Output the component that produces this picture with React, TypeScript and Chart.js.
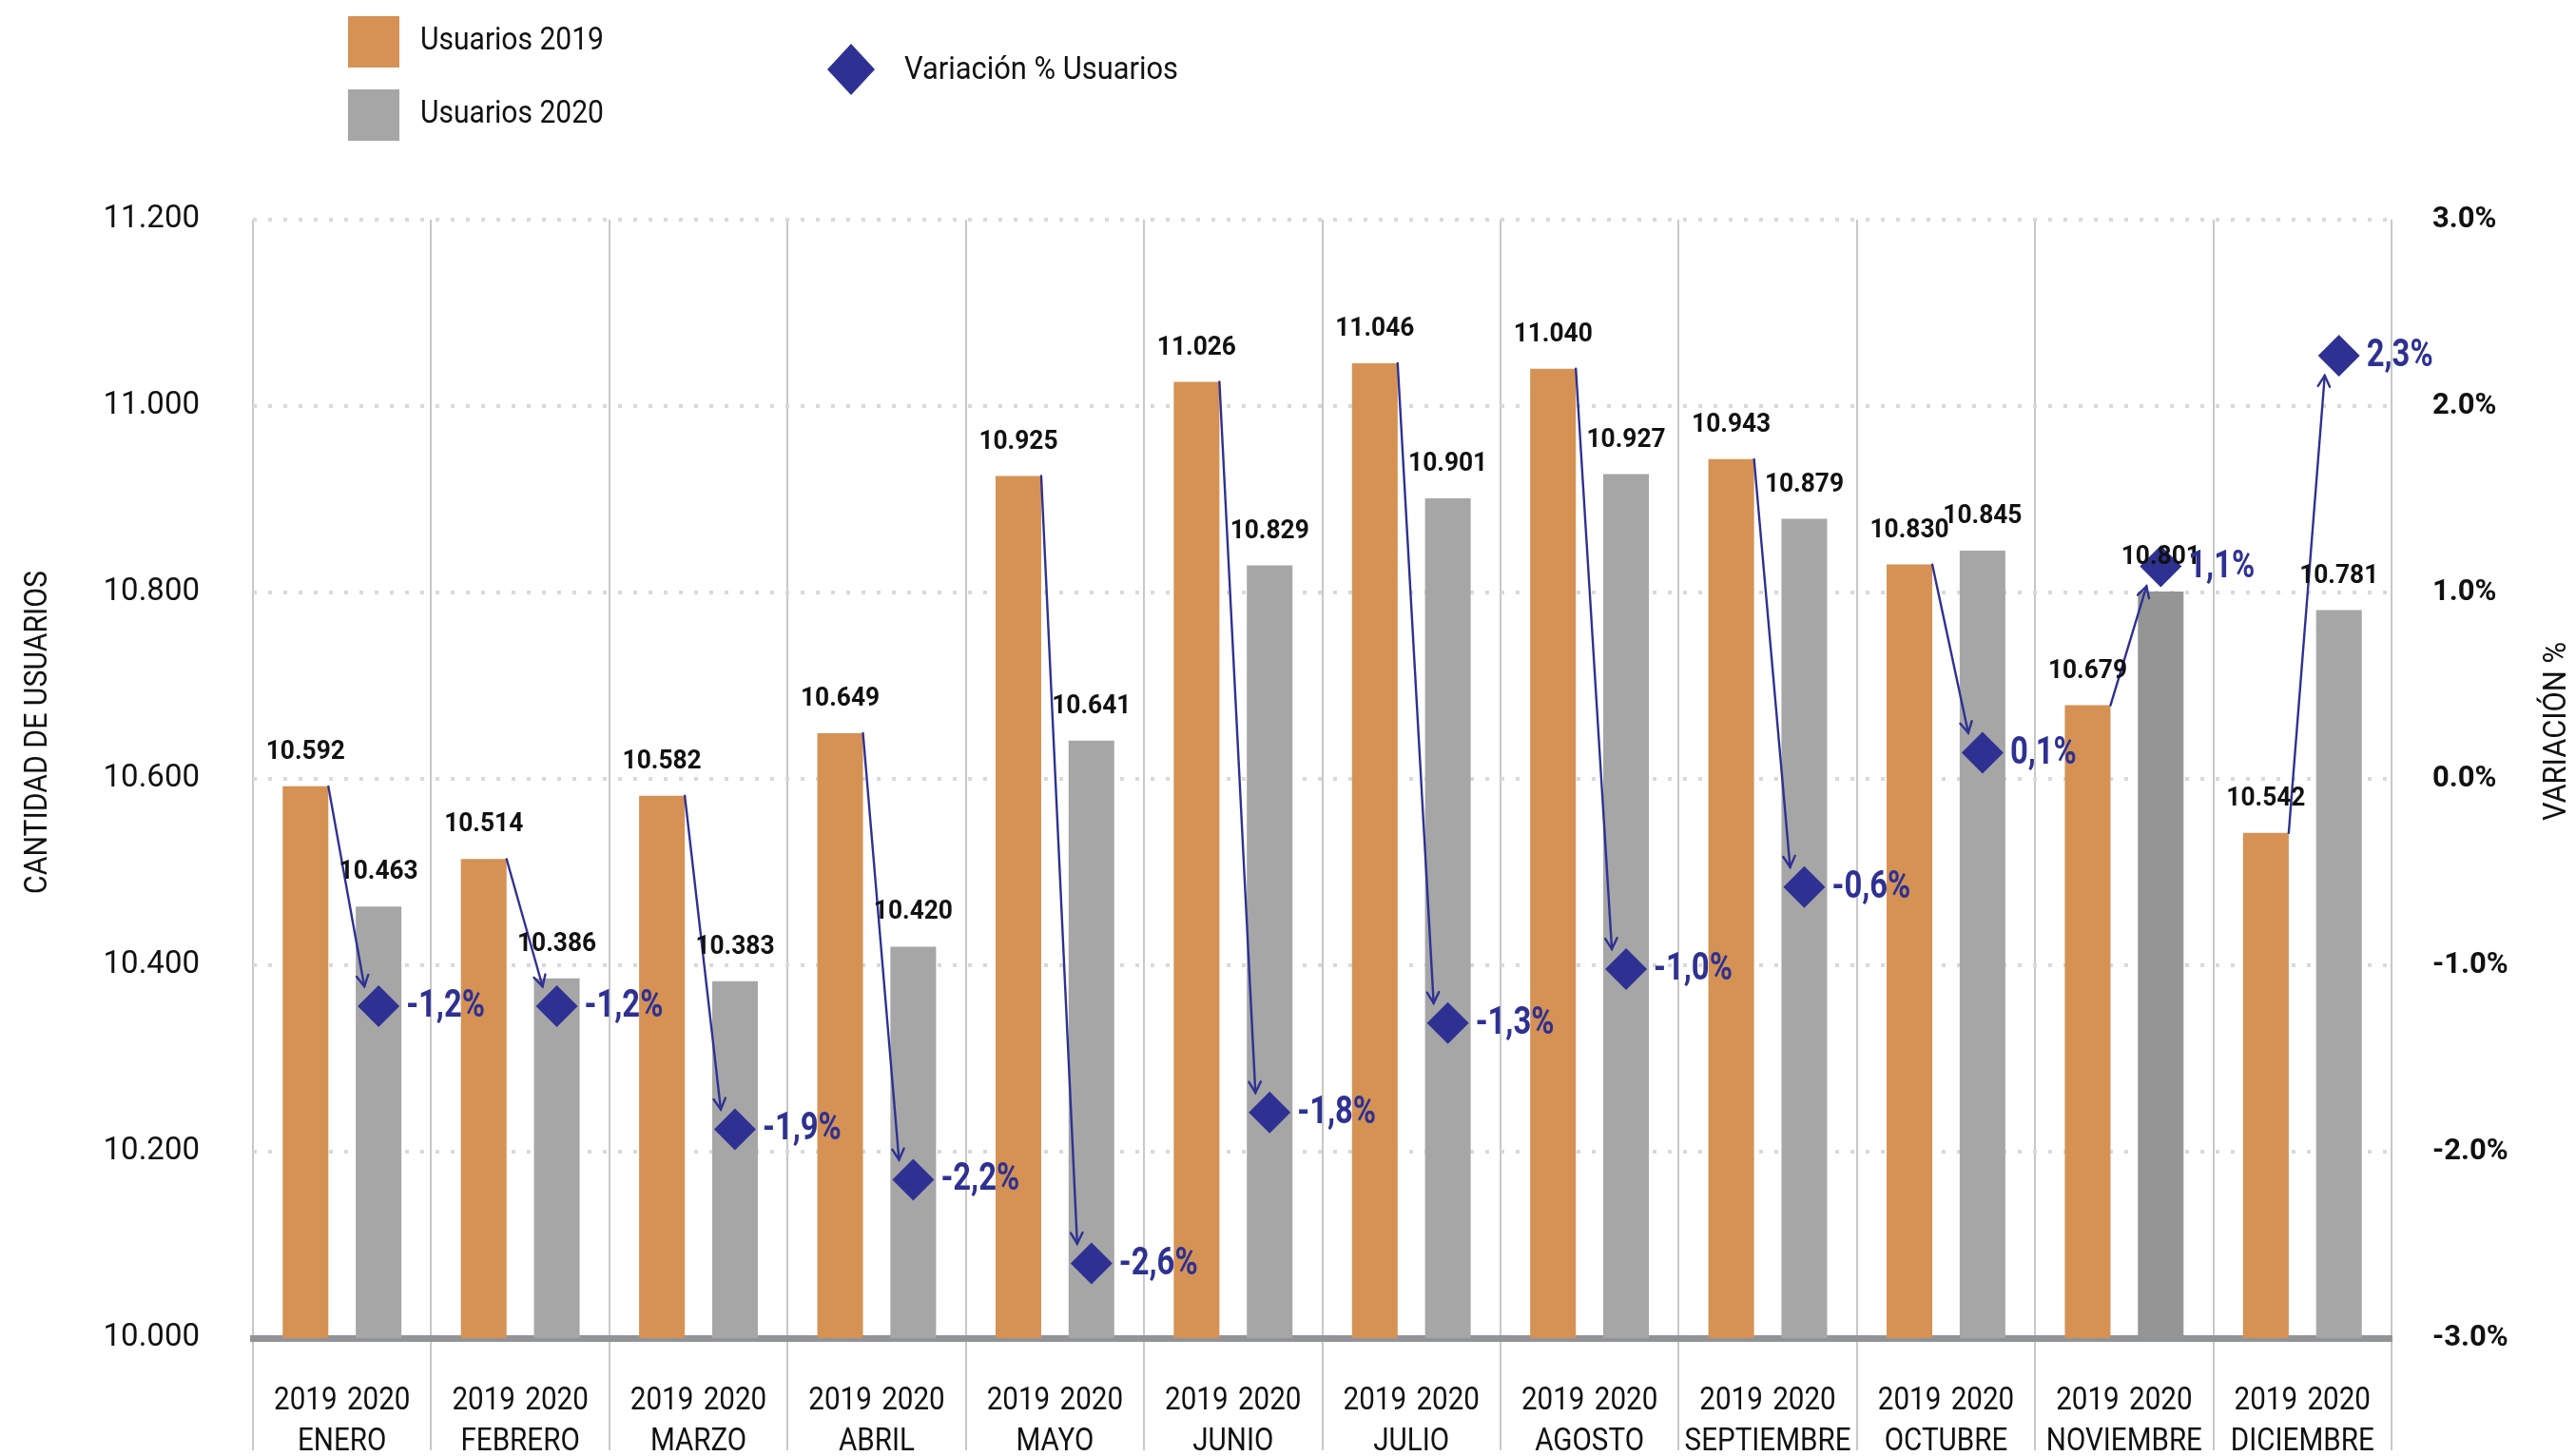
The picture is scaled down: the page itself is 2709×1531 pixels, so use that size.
import { useEffect, useRef } from 'react';
import { Chart, registerables } from 'chart.js';

Chart.register(...registerables);

// ---------- data ----------
const MONTHS = ['ENERO', 'FEBRERO', 'MARZO', 'ABRIL', 'MAYO', 'JUNIO', 'JULIO', 'AGOSTO', 'SEPTIEMBRE', 'OCTUBRE', 'NOVIEMBRE', 'DICIEMBRE'];
const YEARS = ['2019', '2020'];
const USERS_2019 = [10592, 10514, 10582, 10649, 10925, 11026, 11046, 11040, 10943, 10830, 10679, 10542];
const USERS_2020 = [10463, 10386, 10383, 10420, 10641, 10829, 10901, 10927, 10879, 10845, 10801, 10781];
const VARIATION = [-1.22, -1.22, -1.88, -2.15, -2.6, -1.79, -1.31, -1.02, -0.58, 0.14, 1.14, 2.27];
const VARIATION_LABELS = ['-1,2%', '-1,2%', '-1,9%', '-2,2%', '-2,6%', '-1,8%', '-1,3%', '-1,0%', '-0,6%', '0,1%', '1,1%', '2,3%'];
const LEGEND_LABELS = ['Usuarios 2019', 'Usuarios 2020', 'Variación % Usuarios'];
const Y_TITLE = 'CANTIDAD DE USUARIOS';
const Y1_TITLE = 'VARIACIÓN %';
const Y_MIN = 10000;
const Y_MAX = 11200;
const Y_STEP = 200;
const Y1_MIN = -3;
const Y1_MAX = 3;
const Y1_STEP = 1;

// ---------- style ----------
const ORANGE = '#D59254';
const GRAY = '#A6A6A6';
const GRAY_DARK = '#959595';
const NAVY = '#2E3192';
const TEXT = '#111111';
const FONT = 'Roboto, "Noto Sans", sans-serif';
const CAT_PCT = 0.82;
const BAR_PCT = 0.625;
const DIAMOND_R = 22;
const HIGHLIGHT_2020 = 10;

function fmt(v: number): string {
  return String(v).replace(/\B(?=(\d{3})+(?!\d))/g, '.');
}

function drawText(
  ctx: CanvasRenderingContext2D,
  s: string,
  x: number,
  y: number,
  size: number,
  weight: string,
  color: string,
  align: CanvasTextAlign,
  sx: number,
  rot = 0,
  width = 0
) {
  ctx.save();
  ctx.translate(x, y);
  if (rot) ctx.rotate(rot);
  ctx.font = `${weight} ${size}px ${FONT}`;
  let k = sx;
  if (width) k = width / ctx.measureText(s).width;
  ctx.scale(k, 1);
  ctx.fillStyle = color;
  ctx.textAlign = align;
  ctx.textBaseline = 'middle';
  ctx.fillText(s, 0, 0);
  ctx.restore();
}

const overlay = {
  id: 'overlay',
  // place each diamond over its 2020 bar (position taken from the bar element)
  afterDatasetsUpdate(chart: any) {
    const m20 = chart.getDatasetMeta(1);
    const mv = chart.getDatasetMeta(2);
    mv.data.forEach((p: any, i: number) => {
      const bar = m20.data[i];
      if (bar) p.x = bar.x;
    });
  },
  afterDatasetDraw(chart: any, args: any) {
    if (args.index !== 0) return;
    const ctx: CanvasRenderingContext2D = chart.ctx;
    const m19 = chart.getDatasetMeta(0);
    const mv = chart.getDatasetMeta(2);
    ctx.save();
    ctx.strokeStyle = NAVY;
    ctx.lineWidth = 2.4;
    ctx.lineCap = 'round';
    m19.data.forEach((bar: any, i: number) => {
      const p = mv.data[i];
      if (!p) return;
      const x0 = bar.x + bar.width / 2;
      const y0 = bar.y;
      const down = p.y > y0;
      const x1 = p.x - 0.68 * DIAMOND_R;
      const y1 = p.y + (down ? -1 : 1) * 0.95 * DIAMOND_R;
      ctx.beginPath();
      ctx.moveTo(x0, y0);
      ctx.lineTo(x1, y1);
      ctx.stroke();
      const a = Math.atan2(y1 - y0, x1 - x0);
      const L = 13;
      const spread = 0.5;
      ctx.beginPath();
      ctx.moveTo(x1 - L * Math.cos(a - spread), y1 - L * Math.sin(a - spread));
      ctx.lineTo(x1, y1);
      ctx.lineTo(x1 - L * Math.cos(a + spread), y1 - L * Math.sin(a + spread));
      ctx.stroke();
    });
    ctx.restore();
  },
  afterDatasetsDraw(chart: any) {
    const ctx: CanvasRenderingContext2D = chart.ctx;
    const metas = [chart.getDatasetMeta(0), chart.getDatasetMeta(1)];
    const values = [USERS_2019, USERS_2020];
    metas.forEach((meta: any, d: number) => {
      meta.data.forEach((bar: any, i: number) => {
        drawText(ctx, fmt(values[d][i]), bar.x, bar.y - 36, 28, 'bold', TEXT, 'center', 0.94);
        drawText(ctx, YEARS[d], bar.x, 1473, 34, 'normal', TEXT, 'center', 0.87);
      });
    });
    const xs = chart.scales.x;
    MONTHS.forEach((m, i) => {
      drawText(ctx, m, xs.getPixelForValue(i), 1516, 34, 'normal', TEXT, 'center', 0.87);
    });
    const mv = chart.getDatasetMeta(2);
    mv.data.forEach((p: any, i: number) => {
      drawText(ctx, VARIATION_LABELS[i], p.x + DIAMOND_R + 7, p.y + 1, 40, 'bold', NAVY, 'left', 0.82);
    });
  },
  afterDraw(chart: any) {
    const ctx: CanvasRenderingContext2D = chart.ctx;
    ctx.save();
    ctx.fillStyle = ORANGE;
    ctx.fillRect(366, 17, 54, 54);
    ctx.fillStyle = GRAY;
    ctx.fillRect(366, 94, 54, 54);
    ctx.fillStyle = NAVY;
    ctx.beginPath();
    ctx.moveTo(895, 46);
    ctx.lineTo(920, 73);
    ctx.lineTo(895, 100);
    ctx.lineTo(870, 73);
    ctx.closePath();
    ctx.fill();
    ctx.restore();
    drawText(ctx, LEGEND_LABELS[0], 442, 44, 33, 'normal', TEXT, 'left', 1, 0, 193);
    drawText(ctx, LEGEND_LABELS[1], 442, 121, 33, 'normal', TEXT, 'left', 1, 0, 193);
    drawText(ctx, LEGEND_LABELS[2], 951, 75, 33, 'normal', TEXT, 'left', 1, 0, 288);
    drawText(ctx, Y_TITLE, 40, 770, 34, 'normal', TEXT, 'center', 1, -Math.PI / 2, 340);
    drawText(ctx, Y1_TITLE, 2689, 769, 34, 'normal', TEXT, 'center', 1, -Math.PI / 2, 188);
  },
};

export default function App() {
  const ref = useRef<HTMLCanvasElement | null>(null);

  useEffect(() => {
    if (!ref.current) return;
    const chart = new Chart(ref.current, {
      type: 'bar',
      data: {
        labels: MONTHS,
        datasets: [
          {
            type: 'bar',
            label: LEGEND_LABELS[0],
            data: USERS_2019,
            backgroundColor: ORANGE,
            yAxisID: 'y',
            xAxisID: 'x',
            categoryPercentage: CAT_PCT,
            barPercentage: BAR_PCT,
            order: 0,
          },
          {
            type: 'bar',
            label: LEGEND_LABELS[1],
            data: USERS_2020,
            backgroundColor: (c: any) => (c.dataIndex === HIGHLIGHT_2020 ? GRAY_DARK : GRAY),
            yAxisID: 'y',
            xAxisID: 'x',
            categoryPercentage: CAT_PCT,
            barPercentage: BAR_PCT,
            order: 0,
          },
          {
            type: 'line',
            label: LEGEND_LABELS[2],
            data: VARIATION,
            xAxisID: 'x',
            yAxisID: 'y1',
            showLine: false,
            pointStyle: 'rectRot',
            pointRadius: DIAMOND_R,
            pointHoverRadius: DIAMOND_R,
            pointBackgroundColor: NAVY,
            pointBorderColor: NAVY,
            pointBorderWidth: 0,
            order: -1,
          } as any,
        ],
      },
      options: {
        animation: false,
        responsive: true,
        maintainAspectRatio: false,
        events: [],
        layout: { padding: { top: 231, left: 0, right: 0, bottom: 0 } },
        plugins: {
          legend: { display: false },
          tooltip: { enabled: false },
        },
        scales: {
          x: {
            type: 'category',
            position: 'bottom',
            offset: true,
            grid: {
              offset: true,
              color: '#C8C8C8',
              lineWidth: 2,
              drawOnChartArea: true,
              drawTicks: true,
              tickLength: 118,
            },
            border: { display: true, color: '#929396', width: 7 },
            ticks: { display: false },
            afterFit: (s: any) => {
              s.height = 124;
            },
          },
          y: {
            type: 'linear',
            position: 'left',
            min: Y_MIN,
            max: Y_MAX,
            ticks: {
              stepSize: Y_STEP,
              padding: 56,
              color: TEXT,
              font: { family: FONT, size: 33 },
              callback: (v: any) => fmt(Number(v)),
            },
            grid: { color: '#D9D9D9', lineWidth: 4, drawTicks: false },
            border: { display: false, dash: [4, 12] },
            afterFit: (s: any) => {
              s.width = 266;
            },
          },
          y1: {
            type: 'linear',
            position: 'right',
            min: Y1_MIN,
            max: Y1_MAX,
            ticks: {
              stepSize: Y1_STEP,
              padding: 43,
              color: TEXT,
              font: { family: FONT, size: 31, weight: 'bold' },
              callback: (v: any) => Number(v).toFixed(1) + '%',
            },
            grid: { display: false, drawTicks: false },
            border: { display: false },
            afterFit: (s: any) => {
              s.width = 194;
            },
          },
        },
      } as any,
      plugins: [overlay],
    });
    return () => chart.destroy();
  }, []);

  return (
    <div style={{ position: 'fixed', left: 0, top: 0, width: '100vw', height: '100vh', background: '#fff' }}>
      <canvas ref={ref} />
    </div>
  );
}
